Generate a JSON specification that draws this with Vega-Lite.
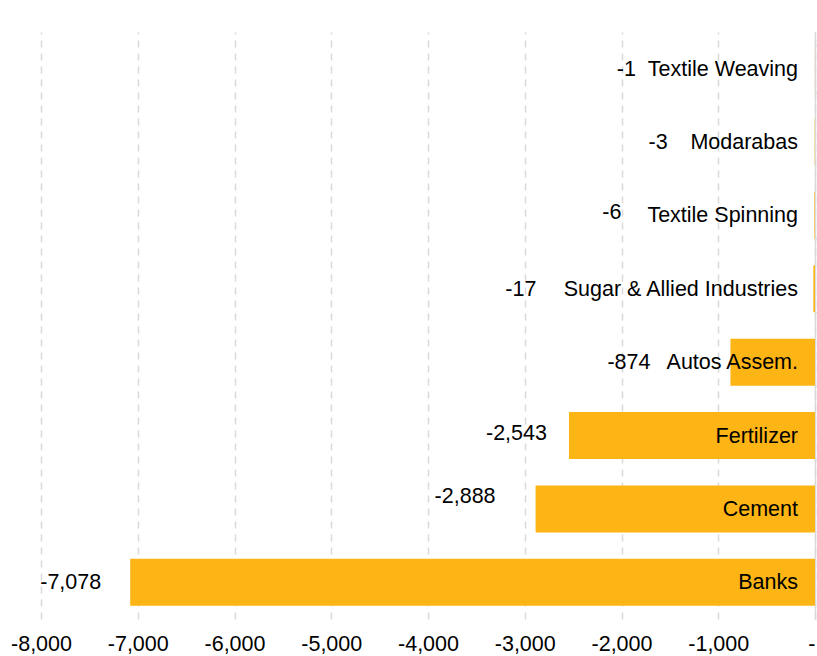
{
  "$schema": "https://vega.github.io/schema/vega-lite/v6.json",
  "width": 774,
  "height": 587,
  "autosize": {"type": "none"},
  "padding": {"left": 41, "top": 32, "right": 2, "bottom": 37},
  "background": "white",
  "config": {
    "view": {"stroke": null},
    "font": "Liberation Sans",
    "text": {"font": "Liberation Sans", "fontSize": 21.5, "color": "#000000"}
  },
  "data": {
    "values": [
      {"sector": "Textile Weaving", "value": -1},
      {"sector": "Modarabas", "value": -3},
      {"sector": "Textile Spinning", "value": -6},
      {"sector": "Sugar & Allied Industries", "value": -17},
      {"sector": "Autos Assem.", "value": -874},
      {"sector": "Fertilizer", "value": -2543},
      {"sector": "Cement", "value": -2888},
      {"sector": "Banks", "value": -7078}
    ]
  },
  "transform": [
    {"calculate": "replace(format(datum.value, ','), '\u2212', '-')", "as": "vlabel"}
  ],
  "encoding": {
    "y": {
      "field": "sector",
      "type": "nominal",
      "sort": ["Textile Weaving", "Modarabas", "Textile Spinning", "Sugar & Allied Industries", "Autos Assem.", "Fertilizer", "Cement", "Banks"],
      "scale": {"paddingInner": 0.36, "paddingOuter": 0.18},
      "axis": {
        "orient": "right",
        "labels": false,
        "title": null,
        "domainColor": "#d9d9d9",
        "domainWidth": 1.5,
        "tickColor": "#d9d9d9",
        "tickSize": 5,
        "tickBand": "extent",
        "grid": false
      }
    }
  },
  "layer": [
    {
      "mark": {"type": "bar", "color": "#FDB515"},
      "encoding": {
        "x": {
          "field": "value",
          "type": "quantitative",
          "scale": {"domain": [-8000, 0], "nice": false},
          "axis": {
            "title": null,
            "values": [-8000, -7000, -6000, -5000, -4000, -3000, -2000, -1000, 0],
            "labelExpr": "datum.value == 0 ? '-' : replace(format(datum.value, ','), '\u2212', '-')",
            "labelFont": "Liberation Sans",
            "labelFontSize": 21.5,
            "labelColor": "#000000",
            "labelPadding": 14,
            "labelFlush": false,
            "labelAlign": {"condition": {"test": "datum.value == 0", "value": "right"}, "value": "center"},
            "domain": false,
            "ticks": false,
            "grid": true,
            "gridColor": "#d9d9d9",
            "gridDash": [7, 6],
            "gridWidth": 1.5
          }
        }
      }
    },
    {
      "mark": {"type": "text", "align": "right", "baseline": "middle", "dx": -17, "dy": 1},
      "encoding": {
        "x": {"datum": 0, "type": "quantitative"},
        "text": {"field": "sector"}
      }
    },
    {
      "mark": {
        "type": "text",
        "align": "right",
        "baseline": "middle",
        "dx": {"expr": "datum.sector == 'Banks' ? -29 : datum.sector == 'Cement' ? -40 : datum.sector == 'Fertilizer' ? -22 : datum.sector == 'Autos Assem.' ? -80 : datum.sector == 'Sugar & Allied Industries' ? -277 : datum.sector == 'Textile Spinning' ? -193 : datum.sector == 'Modarabas' ? -147 : -179"},
        "dy": {"expr": "datum.sector == 'Cement' ? -12 : datum.sector == 'Textile Spinning' ? -2 : datum.sector == 'Fertilizer' ? -2 : 1"}
      },
      "encoding": {
        "x": {"field": "value", "type": "quantitative"},
        "text": {"field": "vlabel"}
      }
    }
  ]
}
